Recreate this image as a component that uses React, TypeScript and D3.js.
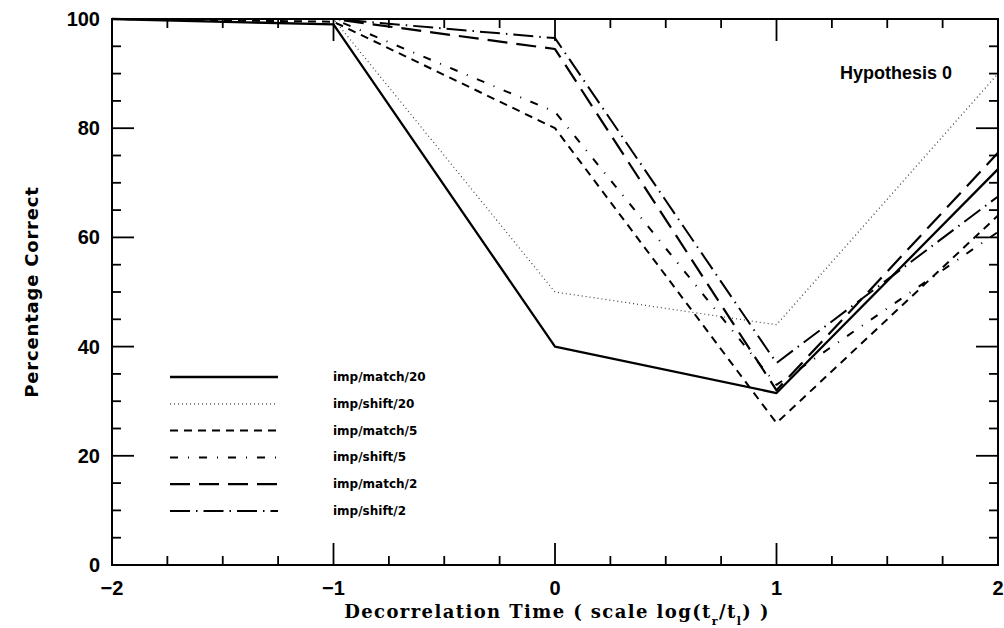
import React from "react";
import * as d3 from "d3";

// Decorrelation time, log scale positions
const decorrTime = [-2, -1, 0, 1, 2];

// Percentage correct for each processing variant
const impMatch20 = [100, 99, 40, 31.5, 72.5];
const impShift20 = [100, 100, 50, 44, 90];
const impMatch5 = [100, 99.5, 80, 26, 64];
const impShift5 = [100, 100, 83, 33, 61];
const impMatch2 = [100, 100, 94.5, 32, 75.5];
const impShift2 = [100, 100, 96.5, 37, 67.5];

const seriesNames = [
  "imp/match/20",
  "imp/shift/20",
  "imp/match/5",
  "imp/shift/5",
  "imp/match/2",
  "imp/shift/2",
];
const seriesValues = [impMatch20, impShift20, impMatch5, impShift5, impMatch2, impShift2];

const xTickValues = [-2, -1, 0, 1, 2];
const yTickValues = [0, 20, 40, 60, 80, 100];

const W = 1004;
const H = 628;

// stroke styling for each series, in the same order as seriesNames
const lineStyles = [
  { width: 2.3, dash: "none", opacity: 1 },
  { width: 1.2, dash: "1 3", opacity: 0.75 },
  { width: 2, dash: "8 6", opacity: 1 },
  { width: 2, dash: "8 10 1 10", opacity: 1 },
  { width: 2.2, dash: "20 9", opacity: 1 },
  { width: 2, dash: "20 6 1.5 6", opacity: 1 },
];

export default function App() {
  const x = d3.scaleLinear().domain([-2, 2]).range([112, 998]);
  const y = d3.scaleLinear().domain([0, 100]).range([565, 19]);

  const line = d3
    .line<number>()
    .x((_, i) => x(decorrTime[i]))
    .y((d) => y(d));

  const xMinor = d3.range(-2, 2.001, 0.25);
  const yMinor = d3.range(0, 100.001, 5);
  const [x0, x1] = x.range();
  const [y0, y1] = y.range();

  const legendTop = 377;
  const legendStep = 26.8;

  const tickFont = "'Liberation Sans', Arial, sans-serif";

  return (
    <div style={{ position: "absolute", left: 0, top: 0 }}>
      <svg width={W} height={H} style={{ display: "block", background: "#fff" }}>
        {/* data lines */}
        {seriesValues.map((vals, i) => (
          <path
            key={seriesNames[i]}
            d={line(vals) || ""}
            fill="none"
            stroke="#000"
            strokeOpacity={lineStyles[i].opacity}
            strokeWidth={lineStyles[i].width}
            strokeDasharray={lineStyles[i].dash}
            strokeLinejoin="round"
          />
        ))}

        {/* frame */}
        <rect
          x={x0}
          y={y1}
          width={x1 - x0}
          height={y0 - y1}
          fill="none"
          stroke="#000"
          strokeWidth={2}
        />

        {/* x ticks, bottom and top, pointing inward */}
        {xMinor.map((v) => {
          const major = Math.abs(v - Math.round(v)) < 1e-6;
          const len = major ? 22 : 9;
          return (
            <g key={"xt" + v}>
              <line x1={x(v)} x2={x(v)} y1={y0} y2={y0 - len} stroke="#000" strokeWidth={1.8} />
              <line x1={x(v)} x2={x(v)} y1={y1} y2={y1 + len} stroke="#000" strokeWidth={1.8} />
            </g>
          );
        })}

        {/* y ticks, left and right, pointing inward */}
        {yMinor.map((v) => {
          const major = v % 20 === 0;
          const len = major ? 22 : 9;
          return (
            <g key={"yt" + v}>
              <line x1={x0} x2={x0 + len} y1={y(v)} y2={y(v)} stroke="#000" strokeWidth={1.8} />
              <line x1={x1} x2={x1 - len} y1={y(v)} y2={y(v)} stroke="#000" strokeWidth={1.8} />
            </g>
          );
        })}

        {/* tick labels */}
        {yTickValues.map((v) => (
          <text
            key={"yl" + v}
            x={x0 - 12}
            y={y(v)}
            textAnchor="end"
            dominantBaseline="central"
            fontFamily={tickFont}
            fontWeight="bold"
            fontSize={20}
          >
            {v}
          </text>
        ))}
        {xTickValues.map((v) => (
          <text
            key={"xl" + v}
            x={x(v)}
            y={588}
            textAnchor="middle"
            dominantBaseline="central"
            fontFamily={tickFont}
            fontWeight="bold"
            fontSize={20}
          >
            {v < 0 ? "\u2212" + Math.abs(v) : String(v)}
          </text>
        ))}

        {/* axis titles */}
        <text
          x={557}
          y={618}
          textAnchor="middle"
          fontFamily="'DejaVu Serif', serif"
          fontWeight="bold"
          fontSize={18}
          letterSpacing={1.4}
        >
          Decorrelation Time ( scale log(t
          <tspan baselineShift="sub" fontSize={11}>r</tspan>
          /t
          <tspan baselineShift="sub" fontSize={11}>l</tspan>
          ) )
        </text>
        <text
          transform={`translate(31, ${(y0 + y1) / 2}) rotate(-90)`}
          textAnchor="middle"
          dominantBaseline="central"
          fontFamily="'DejaVu Sans', sans-serif"
          fontWeight="bold"
          fontSize={18}
          letterSpacing={0.8}
        >
          Percentage Correct
        </text>

        {/* annotation */}
        <text
          x={840}
          y={79}
          fontFamily={tickFont}
          fontWeight="bold"
          fontSize={18}
        >
          Hypothesis 0
        </text>

        {/* legend */}
        {seriesNames.map((name, i) => {
          const ly = legendTop + i * legendStep;
          return (
            <g key={"lg" + name}>
              <line
                x1={170}
                x2={278}
                y1={ly}
                y2={ly}
                stroke="#000"
                strokeOpacity={lineStyles[i].opacity}
                strokeWidth={lineStyles[i].width}
                strokeDasharray={lineStyles[i].dash}
              />
              <text
                x={333}
                y={ly}
                dominantBaseline="central"
                fontFamily="'DejaVu Sans', sans-serif"
                fontWeight="bold"
                fontSize={12}
              >
                {name}
              </text>
            </g>
          );
        })}
      </svg>
    </div>
  );
}
